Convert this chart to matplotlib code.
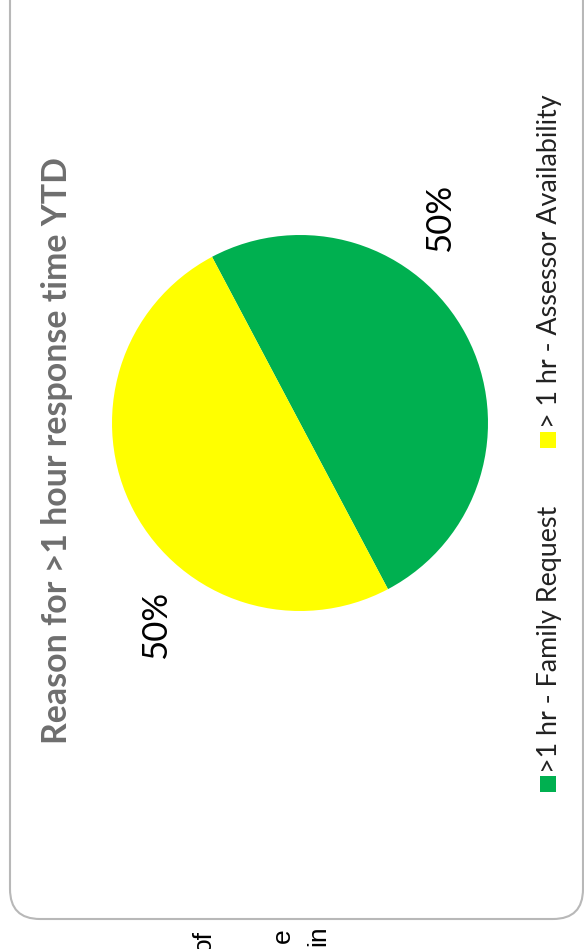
import matplotlib
matplotlib.use("Agg")
import matplotlib.pyplot as plt
from matplotlib.patches import FancyBboxPatch, Rectangle
import numpy as np

# ---- data ----
title = "Reason for >1 hour response time YTD"
categories = [">1 hr - Family Request", "> 1 hr - Assessor Availability"]
values = [50, 50]
colors = ["#00B050", "#FFFF00"]
label_texts = ["50%", "50%"]

W, H = 584, 949
fig = plt.figure(figsize=(W / 100, H / 100), dpi=100)

# background axes in pixel coordinates (y downward)
bg = fig.add_axes([0, 0, 1, 1])
bg.set_xlim(0, W)
bg.set_ylim(H, 0)
bg.axis("off")

# rounded chart border
bg.add_patch(FancyBboxPatch((10, -40), 573, 959,
                            boxstyle="round,pad=0,rounding_size=30",
                            fc="white", ec="#b8b8b8", lw=1.5))

# title (rotated)
bg.text(57, 451, title, rotation=90, ha="center", va="center",
        fontsize=24.4, fontweight="bold", color="#6e6e6e", family="Lato")

# pie
cx, cy, r = 300, 423, 188
pax = fig.add_axes([(cx - r) / W, (H - cy - r) / H, 2 * r / W, 2 * r / H])
pax.pie(values, colors=colors, startangle=-62.1, counterclock=True,
        wedgeprops=dict(linewidth=0))
pax.set_xlim(-1, 1)
pax.set_ylim(-1, 1)
pax.set_aspect("auto")
pax.axis("off")

# data labels
label_pos = [(0.745, 1.09), (-0.765, -1.074)]
for (lx, ly), t in zip(label_pos, label_texts):
    pax.text(lx, ly, t, rotation=90, ha="center", va="center",
             fontsize=25, color="black", family="Lato", clip_on=False)

# legend (rotated)
leg_sq_y = [784, 440]
leg_txt_y = [773, 428]
for c, lab, sy, ty in zip(colors, categories, leg_sq_y, leg_txt_y):
    bg.add_patch(Rectangle((540, sy - 8), 16, 16, fc=c, ec="none"))
    bg.text(549, ty, lab, rotation=90, ha="center", va="bottom",
            fontsize=19.4, color="#222222", family="Lato")

# fragments of surrounding page text (cut by the image edge, as in the reference)
for x, t, top in [(204, "of", 930), (283, "e", 928), (318, "in", 925)]:
    bg.text(x, top, t, rotation=90, ha="center", va="top",
            fontsize=19, color="black", family="Liberation Sans")

fig.savefig("out.png", dpi=100)
